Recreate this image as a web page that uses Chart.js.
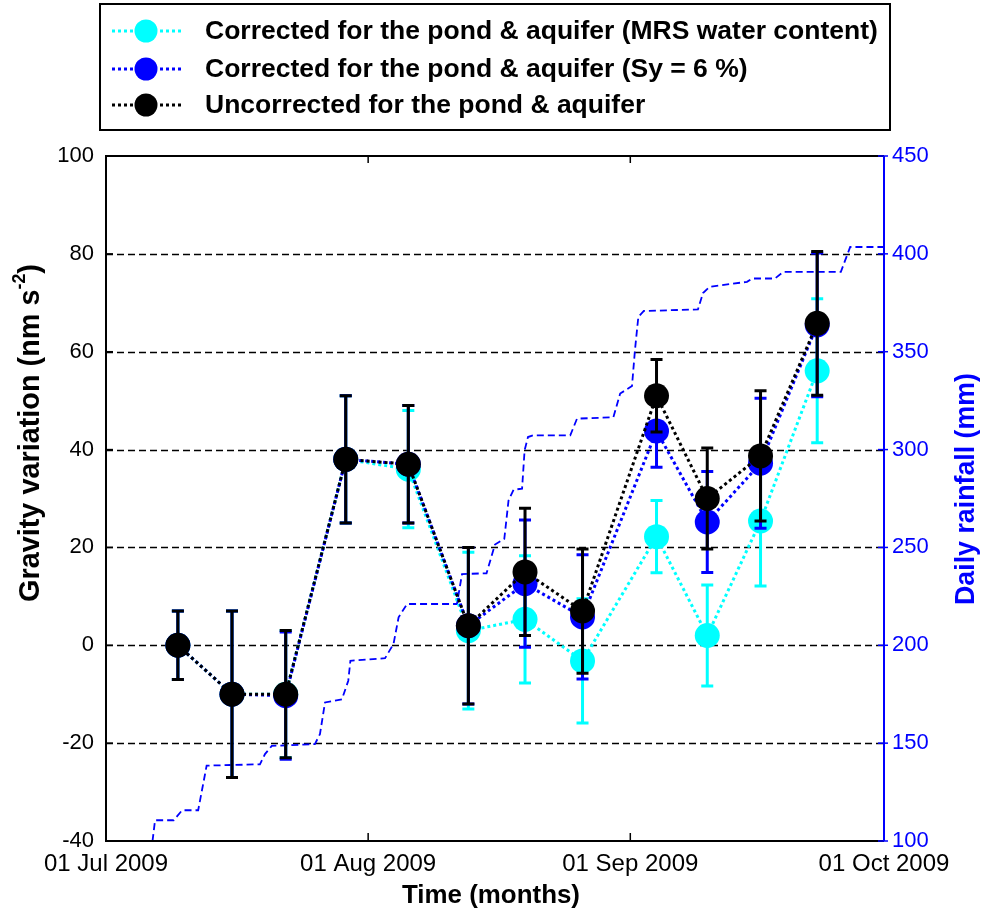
<!DOCTYPE html>
<html>
<head>
<meta charset="utf-8">
<script src="https://cdn.jsdelivr.net/npm/chart.js@4.4.1/dist/chart.umd.min.js"></script>
<style>
html,body{margin:0;padding:0;background:#fff;}
#wrap{width:984px;height:912px;position:relative;}
</style>
</head>
<body>
<div id="wrap"><canvas id="c" width="984" height="912"></canvas></div>
<script>
// ---------- DATA ----------
// survey dates, in days after 01 Jul 2009
const surveyDays = [8.5, 14.9, 21.25, 28.35, 35.75, 42.85, 49.55, 56.35, 65.1, 71.1, 77.4, 84.1];
// gravity variation (nm s-2)
const gravMRS         = [0, -10, -10, 38, 36, 3, 5.3, -3.2, 22.2, 2, 25.4, 56.1];
const gravSy6         = [0, -10, -10.3, 38, 37, 4, 12.6, 5.8, 43.8, 25.2, 37.2, 65.5];
const gravUncorrected = [0, -10, -10, 38, 37, 4, 15, 7, 51, 30, 38.7, 65.8];
// error (half-length of error bar, nm s-2)
const gravError       = [7, 17, 13, 13, 12, 16, 13, 12.7, 7.4, 10.3, 13.3, 14.7];

// rainfall curve (days after 01 Jul 2009, mm)
const rainDays = [5.5, 5.8, 8.0, 9.0, 10.9, 11.9, 18.2, 18.8, 19.6, 24.7, 25.3, 25.9, 27.9, 28.65, 28.9,
  33.0, 34.0, 34.6, 35.6, 41.5, 42.1, 45.0, 46.0, 47.1, 47.6, 48.2, 49.2, 49.5, 49.9, 50.5,
  54.9, 55.7, 60.0, 60.8, 62.2, 62.55, 62.95, 63.6, 70.0, 70.6, 71.4, 75.8, 76.4, 79.1, 80.1, 86.9, 88.0, 92.0];
const rainMm = [100, 110.6, 110.6, 115.7, 115.7, 138.5, 139.2, 144.4, 148.6, 149.5, 154.6, 170.8, 172.4, 181.9, 192.1,
  193.4, 200.7, 214.3, 221.1, 221.1, 236.4, 236.8, 251.5, 254.4, 274, 279.5, 280, 299.6, 306.4, 307.3,
  307.3, 315.8, 316.5, 328.6, 332.5, 350.8, 367.8, 370.8, 371.6, 380, 383.2, 385.7, 387.4, 387.4, 390.8, 390.8, 403.5, 403.5];

// axis ticks
const xTickDays   = [0, 31, 62, 92];
const xTickLabels = ['01 Jul 2009', '01 Aug 2009', '01 Sep 2009', '01 Oct 2009'];
const yLeftTicks  = [-40, -20, 0, 20, 40, 60, 80, 100];
const yRightTicks = [100, 150, 200, 250, 300, 350, 400, 450];

const seriesLabels = [
  'Corrected for the pond & aquifer (MRS water content)',
  'Corrected for the pond & aquifer (Sy = 6 %)',
  'Uncorrected for the pond & aquifer'
];
const titleX = 'Time (months)';
const titleYLeft = ['Gravity variation (nm s', '-2', ')'];
const titleYRight = 'Daily rainfall (mm)';

// ---------- styling ----------
const FONT = '"Liberation Sans", Arial, Helvetica, sans-serif';
const CYAN = '#00ffff', BLUE = '#0000ff', BLACK = '#000000';
Chart.defaults.font.family = FONT;

const pts = (ys) => surveyDays.map((d, i) => ({x: d, y: ys[i]}));

function gravDataset(label, ys, color, order) {
  return {
    label, data: pts(ys), errors: gravError, yAxisID: 'y', order,
    borderColor: color, backgroundColor: color, borderWidth: 3, borderDash: [3, 3],
    pointRadius: 12.5, pointHoverRadius: 12.5, pointBackgroundColor: color,
    pointBorderColor: color, pointBorderWidth: 0,
    tension: 0, fill: false
  };
}

function fitFont(ctx, text, weight, target) {
  ctx.font = weight + ' 20px ' + FONT;
  return 20 * target / ctx.measureText(text).width;
}

const errorBarPlugin = {
  id: 'errorBars',
  beforeDatasetDraw(chart, args) {
    const ds = chart.data.datasets[args.index];
    if (!ds.errors) return;
    const ctx = chart.ctx, xs = chart.scales.x, ys = chart.scales[ds.yAxisID];
    ctx.save();
    ctx.strokeStyle = ds.borderColor;
    ctx.lineWidth = 3;
    ctx.setLineDash([]);
    ds.data.forEach((p, i) => {
      const e = ds.errors[i];
      const x = xs.getPixelForValue(p.x);
      const yt = ys.getPixelForValue(p.y + e), yb = ys.getPixelForValue(p.y - e);
      ctx.beginPath();
      ctx.moveTo(x, yt); ctx.lineTo(x, yb);
      ctx.moveTo(x - 6, yt); ctx.lineTo(x + 6, yt);
      ctx.moveTo(x - 6, yb); ctx.lineTo(x + 6, yb);
      ctx.stroke();
    });
    ctx.restore();
  }
};

const framePlugin = {
  id: 'frame',
  beforeDatasetsDraw(chart) {
    const ctx = chart.ctx, a = chart.chartArea, y = chart.scales.y;
    ctx.save();
    ctx.strokeStyle = '#000';
    ctx.lineWidth = 1.3;
    ctx.setLineDash([7, 4]);
    yLeftTicks.forEach(v => {
      if (v === y.min || v === y.max) return;
      const py = Math.round(y.getPixelForValue(v)) + 0.5;
      ctx.beginPath(); ctx.moveTo(a.left, py); ctx.lineTo(a.right, py); ctx.stroke();
    });
    ctx.restore();
  },
  afterDatasetsDraw(chart) {
    const ctx = chart.ctx, a = chart.chartArea, x = chart.scales.x, y = chart.scales.y, y2 = chart.scales.y2;
    ctx.save();
    ctx.setLineDash([]);
    ctx.lineWidth = 2;
    ctx.strokeStyle = '#000';
    ctx.beginPath();
    ctx.moveTo(a.right, a.top); ctx.lineTo(a.left, a.top); ctx.lineTo(a.left, a.bottom); ctx.lineTo(a.right, a.bottom);
    ctx.stroke();
    // left ticks (inward)
    ctx.lineWidth = 1.5;
    yLeftTicks.forEach(v => {
      const py = y.getPixelForValue(v);
      ctx.beginPath(); ctx.moveTo(a.left, py); ctx.lineTo(a.left + 7, py); ctx.stroke();
    });
    // bottom/top ticks (inward)
    xTickDays.forEach(v => {
      const px = x.getPixelForValue(v);
      ctx.beginPath(); ctx.moveTo(px, a.bottom); ctx.lineTo(px, a.bottom - 8);
      ctx.moveTo(px, a.top); ctx.lineTo(px, a.top + 7); ctx.stroke();
    });
    // right axis (blue)
    ctx.strokeStyle = BLUE;
    ctx.lineWidth = 2;
    ctx.beginPath(); ctx.moveTo(a.right, a.top); ctx.lineTo(a.right, a.bottom); ctx.stroke();
    ctx.lineWidth = 1.5;
    yRightTicks.forEach(v => {
      const py = y2.getPixelForValue(v);
      ctx.beginPath(); ctx.moveTo(a.right - 6, py); ctx.lineTo(a.right + 4, py); ctx.stroke();
    });
    ctx.restore();
  },
  afterDraw(chart) {
    const ctx = chart.ctx;
    ctx.save();
    // ---- legend ----
    const bx = 100, by = 4, bw = 790, bh = 126;
    ctx.fillStyle = '#fff';
    ctx.fillRect(bx, by, bw, bh);
    ctx.strokeStyle = '#000'; ctx.lineWidth = 2; ctx.setLineDash([]);
    ctx.strokeRect(bx, by, bw, bh);
    const colors = [CYAN, BLUE, BLACK];
    const rows = [31, 69, 105];
    const fs = fitFont(ctx, seriesLabels[0], 'bold', 673);
    ctx.font = 'bold ' + fs.toFixed(2) + 'px ' + FONT;
    ctx.textBaseline = 'middle';
    ctx.textAlign = 'left';
    seriesLabels.forEach((t, i) => {
      const ry = rows[i];
      ctx.strokeStyle = colors[i]; ctx.lineWidth = 3; ctx.setLineDash([3, 3]);
      ctx.beginPath(); ctx.moveTo(112, ry); ctx.lineTo(182, ry); ctx.stroke();
      ctx.setLineDash([]);
      ctx.fillStyle = colors[i];
      ctx.beginPath(); ctx.arc(146, ry, 11.5, 0, Math.PI * 2); ctx.fill();
      ctx.fillStyle = '#000';
      ctx.fillText(t, 205, ry + 1);
    });
    // ---- x title ----
    const fx = fitFont(ctx, titleX, 'bold', 178);
    ctx.font = 'bold ' + fx.toFixed(2) + 'px ' + FONT;
    ctx.textAlign = 'center';
    ctx.fillStyle = '#000';
    ctx.fillText(titleX, 491, 896);
    // ---- left y title ----
    ctx.translate(31, 433);
    ctx.rotate(-Math.PI / 2);
    const fl = fitFont(ctx, titleYLeft[0] + titleYLeft[2], 'bold', 322);
    const big = 'bold ' + fl.toFixed(2) + 'px ' + FONT, small = 'bold ' + (fl * 0.62).toFixed(2) + 'px ' + FONT;
    ctx.font = big; const w1 = ctx.measureText(titleYLeft[0]).width, w3 = ctx.measureText(titleYLeft[2]).width;
    ctx.font = small; const w2 = ctx.measureText(titleYLeft[1]).width;
    let sx = -(w1 + w2 + w3) / 2;
    ctx.textAlign = 'left';
    ctx.font = big; ctx.fillText(titleYLeft[0], sx, 0); sx += w1;
    ctx.font = small; ctx.fillText(titleYLeft[1], sx, -fl * 0.38); sx += w2;
    ctx.font = big; ctx.fillText(titleYLeft[2], sx, 0);
    ctx.setTransform(1, 0, 0, 1, 0, 0);
    // ---- right y title ----
    ctx.translate(967, 489);
    ctx.rotate(-Math.PI / 2);
    ctx.textAlign = 'center';
    ctx.fillStyle = BLUE;
    const fr = fitFont(ctx, titleYRight, 'bold', 232);
    ctx.font = 'bold ' + fr.toFixed(2) + 'px ' + FONT;
    ctx.fillText(titleYRight, 0, 0);
    ctx.restore();
  }
};

new Chart(document.getElementById('c'), {
  type: 'line',
  data: {
    datasets: [
      gravDataset(seriesLabels[0], gravMRS, CYAN, 3),
      gravDataset(seriesLabels[1], gravSy6, BLUE, 2),
      gravDataset(seriesLabels[2], gravUncorrected, BLACK, 1),
      {
        label: titleYRight, yAxisID: 'y2', order: 4,
        data: rainDays.map((d, i) => ({x: d, y: rainMm[i]})),
        borderColor: BLUE, borderWidth: 1.8, borderDash: [7, 4],
        pointRadius: 0, pointHoverRadius: 0, tension: 0, fill: false
      }
    ]
  },
  options: {
    responsive: false,
    devicePixelRatio: 1,
    animation: false,
    events: [],
    layout: {padding: {top: 156, left: 0, right: 0, bottom: 0}},
    plugins: {legend: {display: false}, tooltip: {enabled: false}, title: {display: false}},
    scales: {
      x: {
        type: 'linear', position: 'bottom', min: 0, max: 92,
        grid: {display: false, drawTicks: false}, border: {display: false},
        afterBuildTicks: (s) => { s.ticks = xTickDays.map(v => ({value: v})); },
        afterFit: (s) => { s.height = 71; },
        ticks: {
          autoSkip: false, maxRotation: 0, minRotation: 0, padding: 9,
          color: '#000', font: {size: 24},
          callback: (v) => { const i = xTickDays.indexOf(v); return i >= 0 ? xTickLabels[i] : ''; }
        }
      },
      y: {
        type: 'linear', position: 'left', min: -40, max: 100,
        grid: {display: false, drawTicks: false}, border: {display: false},
        afterBuildTicks: (s) => { s.ticks = yLeftTicks.map(v => ({value: v})); },
        afterFit: (s) => { s.width = 106; },
        ticks: {padding: 12, color: '#000', font: {size: 22}}
      },
      y2: {
        type: 'linear', position: 'right', min: 100, max: 450,
        grid: {display: false, drawTicks: false}, border: {display: false},
        afterBuildTicks: (s) => { s.ticks = yRightTicks.map(v => ({value: v})); },
        afterFit: (s) => { s.width = 100; },
        ticks: {padding: 8, color: BLUE, font: {size: 22}}
      }
    }
  },
  plugins: [errorBarPlugin, framePlugin]
});
</script>
</body>
</html>
